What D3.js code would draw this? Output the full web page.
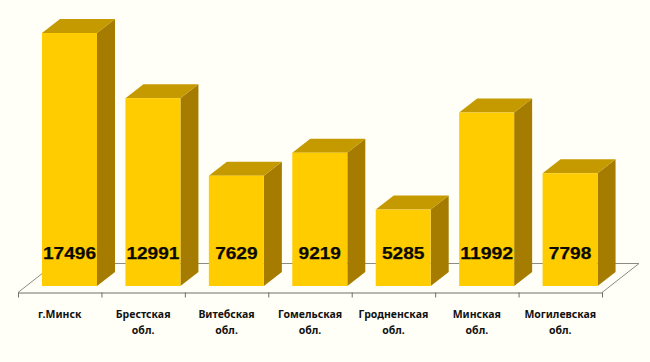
<!DOCTYPE html>
<html>
<head>
<meta charset="utf-8">
<script src="https://cdn.jsdelivr.net/npm/d3@7"></script>
<style>
    html, body { margin: 0; padding: 0; background: #fffff8; }
    svg { display: block; }
</style>
</head>
<body>
<div id="chart"></div>
<script>
const categories = ["г.Минск", "Брестская обл.", "Витебская обл.", "Гомельская обл.", "Гродненская обл.", "Минская обл.", "Могилевская обл."];
const values = [17496, 12991, 7629, 9219, 5285, 11992, 7798];

const width = 650, height = 362;
const depth = { x: 18, y: 14 };
const floorDepth = { x: 37, y: 29 };
const barInset = 24, barWidth = 55;
const axisY = 292.5;
const digitWidth = 10.6;

const svg = d3.select("#chart").append("svg")
    .attr("width", width)
    .attr("height", height);

const xScale = d3.scaleBand().domain(categories).range([18, 602]);
const xTicks = d3.scaleLinear().domain([0, categories.length]).range([18, 602]);
const yScale = d3.scaleLinear().domain([0, 17496]).range([286, 33]);

// Floor
const floor = d3.path();
floor.moveTo(18, axisY);
floor.lineTo(18 + floorDepth.x, axisY - floorDepth.y);
floor.lineTo(602 + floorDepth.x, axisY - floorDepth.y);
floor.lineTo(602, axisY);
svg.append("path")
    .attr("d", floor.toString())
    .attr("fill", "none")
    .attr("stroke", "#8c8c84")
    .attr("stroke-width", 1);

// Axis with ticks on the band edges
const axis = svg.append("g")
    .attr("transform", `translate(0,${axisY})`)
    .call(d3.axisBottom(xTicks).tickValues(d3.range(categories.length + 1)).tickSize(5).tickSizeOuter(0).tickFormat(""));
axis.selectAll("path, line").attr("stroke", "#6e6e68");

// 3D bars
const bars = svg.selectAll(".bar")
    .data(categories.map((c, i) => ({ category: c, value: values[i] })))
    .enter()
    .append("g")
    .attr("class", "bar");

const left = d => xScale(d.category) + barInset;
const right = d => left(d) + barWidth;

bars.append("polygon")
    .attr("points", d => [
        [right(d), yScale(d.value)],
        [right(d) + depth.x, yScale(d.value) - depth.y],
        [right(d) + depth.x, yScale(0) - depth.y],
        [right(d), yScale(0)]
    ].join(" "))
    .attr("fill", "#a67c00");

bars.append("polygon")
    .attr("points", d => [
        [left(d), yScale(d.value)],
        [left(d) + depth.x, yScale(d.value) - depth.y],
        [right(d) + depth.x, yScale(d.value) - depth.y],
        [right(d), yScale(d.value)]
    ].join(" "))
    .attr("fill", "#c49a00");

bars.append("rect")
    .attr("x", left)
    .attr("y", d => yScale(d.value))
    .attr("width", barWidth)
    .attr("height", d => yScale(0) - yScale(d.value))
    .attr("fill", "#ffcc00");

// Value labels are stretched wider than the plain font
bars.append("text")
    .attr("x", d => left(d) + barWidth / 2)
    .attr("y", 258.5)
    .attr("text-anchor", "middle")
    .attr("textLength", d => String(d.value).length * digitWidth)
    .attr("lengthAdjust", "spacingAndGlyphs")
    .style("font", "bold 17px 'Liberation Sans', Arial, sans-serif")
    .style("fill", "#0a0a00")
    .style("stroke", "#0a0a00")
    .style("stroke-width", 0.25)
    .text(d => d.value);

// Category labels, wrapped on the space
const labels = svg.selectAll(".label")
    .data(categories)
    .enter()
    .append("text")
    .attr("class", "label")
    .attr("text-anchor", "middle")
    .style("font", "bold 10.5px 'Noto Sans', sans-serif")
    .style("fill", "#111111");

labels.selectAll("tspan")
    .data(d => d.split(" ").map(line => ({ line, center: xScale(d) + xScale.bandwidth() / 2 })))
    .enter()
    .append("tspan")
    .attr("x", d => d.center)
    .attr("y", (d, i) => 318 + i * 16)
    .text(d => d.line);
</script>
</body>
</html>
